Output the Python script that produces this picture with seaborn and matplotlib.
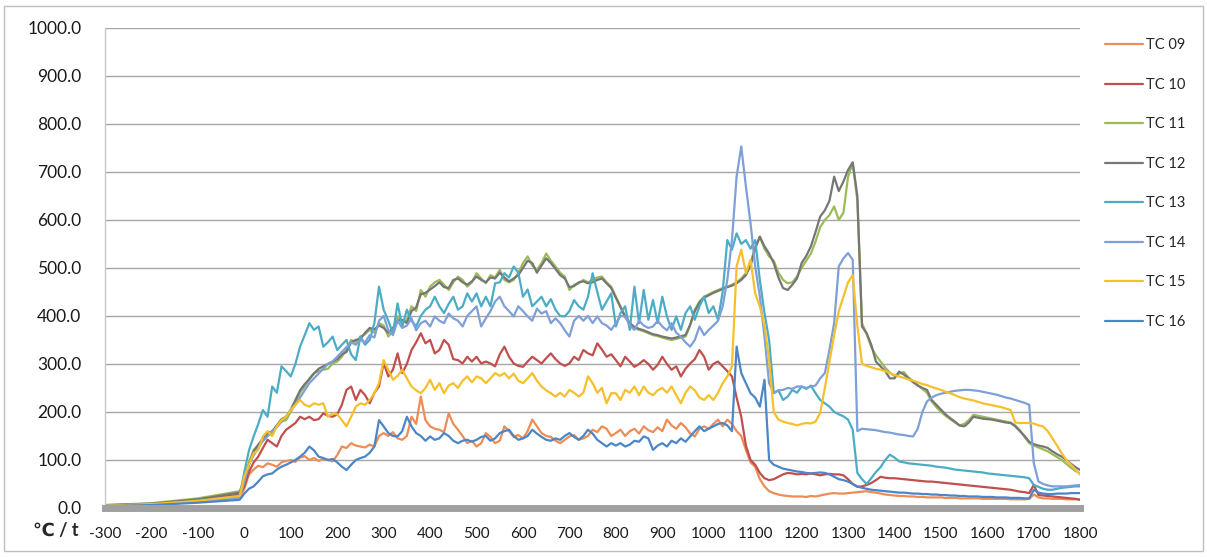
import matplotlib
matplotlib.use("Agg")
import matplotlib.pyplot as plt
from matplotlib.patches import Rectangle
import seaborn as sns
import pandas as pd

# time axis (s): a few pre-ignition points, then every 10 s
time = [-300, -200, -100, -10] + list(range(0, 1801, 10))

tc09 = [5, 7, 13, 22,
        40, 70, 80, 88, 85, 93, 90, 86, 95, 98,
        100, 96, 105, 108, 100, 104, 98, 102, 100, 97,
        110, 128, 125, 135, 130, 128, 126, 132, 128, 150,
        156, 150, 158, 145, 142, 150, 190, 175, 232, 183,
        170, 165, 163, 158, 197, 175, 163, 150, 135, 140,
        128, 135, 156, 148, 135, 140, 170, 160, 148, 152,
        145, 160, 184, 170, 156, 150, 148, 140, 135, 142,
        149, 152, 142, 145, 150, 163, 158, 170, 165, 150,
        156, 163, 150, 160, 165, 155, 170, 162, 158, 168,
        160, 184, 172, 165, 177, 168, 155, 149, 165, 170,
        165, 175, 184, 170, 184, 175, 160, 150, 121, 95,
        86, 60, 45, 35, 31, 28, 26, 25, 24, 24,
        24, 23, 25, 24, 26, 28, 30, 31, 30, 30,
        31, 32, 33, 34, 35, 33, 32, 30, 28, 27,
        26, 25, 25, 24, 24, 23, 23, 22, 22, 22,
        22, 21, 21, 21, 20, 20, 20, 20, 20, 19,
        19, 19, 19, 19, 19, 18, 18, 18, 18, 19,
        28, 22, 20, 20, 19, 19, 19, 18, 18, 18,
        18]

tc10 = [5, 8, 16, 28,
        45, 75, 95, 107, 125, 142, 135, 128, 150, 163,
        170, 177, 190, 185, 190, 183, 185, 197, 192, 190,
        195, 215, 246, 253, 225, 246, 235, 218, 240, 253,
        302, 274, 288, 322, 281, 300, 329, 345, 364, 343,
        350, 322, 329, 350, 340, 310, 308, 301, 315, 305,
        315, 301, 305, 301, 295, 320, 336, 315, 301, 296,
        294, 305, 315, 308, 301, 312, 322, 310, 301, 296,
        301, 315, 308, 329, 322, 318, 343, 330, 315, 320,
        308, 295, 315, 305, 294, 300, 308, 300, 288, 298,
        315, 300, 288, 295, 274, 290, 301, 310, 329, 315,
        288, 300, 305, 295, 285, 274, 230, 190, 130, 100,
        90, 73, 62, 58, 60, 65, 70, 73, 72, 70,
        71, 70, 72, 70, 68, 70, 71, 70, 70, 68,
        60, 50, 44, 45, 48, 52, 58, 65, 63, 62,
        62, 61, 60, 59, 58, 57, 56, 55, 55, 54,
        53, 52, 51, 50, 49, 48, 47, 46, 45, 44,
        43, 42, 41, 40, 39, 38, 36, 34, 33, 31,
        48, 27, 26, 25, 24, 23, 22, 21, 20, 19,
        17]

tc11 = [6, 10, 20, 35,
        60, 95, 121, 130, 140, 150, 156, 170, 180, 183,
        200, 218, 240, 253, 270, 281, 285, 288, 290, 301,
        305, 315, 330, 350, 345, 357, 362, 371, 365, 385,
        380, 357, 370, 399, 385, 392, 420, 410, 454, 440,
        461, 470, 475, 465, 454, 470, 482, 475, 461, 470,
        489, 478, 468, 485, 480, 496, 475, 470, 475, 490,
        510, 524, 505, 496, 510, 530, 515, 503, 490, 482,
        454, 465, 468, 475, 470, 475, 480, 482, 470, 461,
        440, 420, 400, 385, 375, 371, 368, 364, 360, 358,
        355, 352, 350, 352, 355, 357, 380, 413, 430, 440,
        445, 450, 454, 458, 461, 465, 470, 478, 489, 510,
        544, 565, 540, 524, 515, 490, 475, 468, 470, 482,
        500, 515, 530, 555, 585, 600, 610, 628, 600, 615,
        690, 718, 640, 385, 362, 335, 318, 305, 292, 282,
        275, 280, 283, 272, 264, 256, 248, 240, 222, 210,
        200, 192, 185, 178, 172, 175, 183, 194, 192, 190,
        188, 186, 184, 182, 180, 178, 172, 162, 148, 135,
        130, 126, 122, 118, 112, 106, 100, 92, 84, 77,
        72]

tc12 = [6, 9, 18, 32,
        55, 90, 118, 132, 145, 155, 160, 172, 185, 190,
        205, 225, 245, 258, 268, 280, 290, 295, 300, 305,
        310, 320, 325, 345, 350, 352, 365, 375, 372, 380,
        375, 365, 375, 390, 392, 385, 410, 418, 445, 448,
        455, 462, 470, 460, 458, 475, 478, 470, 465, 472,
        482, 475, 470, 480, 478, 490, 480, 472, 478, 485,
        500, 515, 510, 490, 505, 520, 510, 498, 485, 478,
        460, 462, 470, 472, 468, 470, 475, 478, 468, 458,
        438, 418, 398, 385, 377, 373, 370, 366, 362, 360,
        357, 355, 353, 355, 358, 360, 382, 410, 428, 438,
        443, 448, 452, 456, 460, 463, 468, 475, 485, 505,
        540, 565, 545, 530, 510, 480, 458, 454, 465, 478,
        510, 525, 545, 575, 607, 620, 640, 690, 660, 680,
        704, 720, 650, 378, 364, 340, 305, 295, 285, 270,
        270, 284, 278, 270, 262, 255, 250, 246, 225, 215,
        205, 195, 187, 180, 172, 170, 178, 190, 188, 186,
        185, 184, 182, 180, 178, 177, 170, 160, 150, 138,
        133, 130, 128, 125, 118, 112, 107, 100, 92, 85,
        79]

tc13 = [5, 7, 14, 25,
        75, 120, 149, 175, 204, 190, 253, 240, 295, 285,
        274, 300, 336, 360, 385, 371, 378, 336, 345, 357,
        329, 340, 350, 320, 308, 357, 340, 350, 385, 461,
        413, 390, 364, 426, 378, 413, 390, 378, 400, 413,
        420, 440, 420, 406, 425, 440, 413, 420, 447, 430,
        447, 420, 440, 420, 468, 470, 489, 480, 503, 490,
        440, 455, 420, 430, 440, 420, 435, 413, 400, 399,
        410, 433, 420, 413, 440, 489, 450, 413, 430, 447,
        378, 406, 420, 371, 461, 385, 454, 392, 433, 385,
        440, 399, 371, 399, 371, 406, 420, 392, 420, 440,
        406, 420, 392, 450, 558, 538, 572, 550, 558, 540,
        558, 475, 406, 350, 239, 245, 225, 232, 246, 240,
        253, 248, 255, 239, 225, 218, 211, 200, 195, 191,
        184, 163, 73, 60, 50, 62, 75, 85, 100, 111,
        105, 97, 95, 93, 92, 91, 90, 89, 88, 86,
        85, 84, 82, 80, 79, 78, 77, 76, 75, 74,
        72, 71, 70, 69, 68, 67, 66, 65, 64, 62,
        48, 44, 40, 38, 38, 40, 42, 43, 44, 45,
        45]

tc14 = [5, 7, 13, 22,
        55, 90, 110, 125, 140, 150, 160, 168, 180, 190,
        205, 215, 230, 245, 260, 270, 280, 290, 300, 305,
        315, 325, 335, 345, 340, 350, 345, 360, 355, 390,
        400, 370, 360, 390, 375, 380, 395, 370, 385, 390,
        378, 399, 390, 385, 405, 395, 390, 378, 400, 410,
        420, 378, 395, 410, 430, 440, 420, 410, 399, 420,
        410, 399, 390, 415, 405, 410, 385, 395, 385, 370,
        357, 390, 400, 390, 400, 385, 399, 385, 380, 371,
        385, 400, 399, 380, 371, 390, 380, 375, 378, 390,
        378, 370, 385, 365, 357, 345, 336, 350, 378, 360,
        371, 380, 390, 420, 475, 558, 690, 753, 670, 593,
        503, 441, 357, 260, 240, 245, 246, 250, 248, 253,
        253, 250, 253, 255, 270, 281, 330, 385, 503, 520,
        531, 517, 160, 165, 164, 163, 162, 160, 158, 157,
        155, 153, 152, 150, 149, 165, 200, 222, 230, 235,
        238, 240, 242, 244, 245, 246, 246, 245, 244, 242,
        240, 238, 236, 233, 230, 228, 225, 222, 219, 215,
        93, 55, 50, 47, 45, 45, 45, 45, 46, 47,
        48]

tc15 = [5, 8, 15, 25,
        66, 90, 114, 121, 149, 160, 150, 170, 183, 190,
        204, 215, 225, 215, 211, 218, 215, 218, 190, 197,
        195, 183, 170, 190, 211, 218, 215, 225, 239, 260,
        308, 288, 267, 275, 288, 270, 253, 245, 239, 250,
        267, 246, 260, 239, 255, 260, 250, 265, 274, 262,
        274, 270, 260, 270, 281, 275, 281, 270, 280, 265,
        260, 270, 281, 265, 253, 245, 239, 232, 240, 232,
        246, 240, 232, 240, 274, 260, 240, 250, 218, 239,
        239, 225, 246, 240, 253, 235, 253, 240, 235, 245,
        250, 240, 253, 235, 218, 240, 253, 245, 230, 225,
        235, 225, 240, 260, 274, 295, 503, 538, 489, 517,
        447, 420, 380, 308, 200, 184, 180, 177, 175, 172,
        175, 177, 176, 180, 198, 250, 305, 360, 410, 440,
        470, 485, 380, 300, 296, 293, 290, 288, 285, 281,
        277, 274, 271, 268, 265, 262, 258, 256, 252, 249,
        246, 242, 239, 235, 231, 228, 226, 224, 221, 218,
        216, 214, 212, 210, 207, 204, 178, 177, 177, 177,
        176, 172, 170, 160, 145, 130, 114, 100, 90, 80,
        69]

tc16 = [4, 6, 11, 17,
        30, 40, 45, 55, 66, 70, 72, 80, 86, 90,
        95, 100, 107, 115, 128, 120, 107, 104, 100, 102,
        95, 86, 79, 90, 100, 104, 107, 115, 128, 183,
        170, 156, 150, 149, 160, 190, 170, 156, 150, 140,
        149, 142, 145, 156, 150, 140, 135, 140, 142, 138,
        142, 148, 150, 140, 145, 156, 160, 163, 150, 142,
        145, 150, 163, 155, 148, 142, 140, 145, 142, 150,
        156, 148, 142, 150, 163, 155, 142, 135, 128, 135,
        130, 135, 128, 132, 140, 138, 149, 145, 121, 130,
        135, 128, 140, 135, 145, 138, 149, 160, 170, 160,
        165, 170, 175, 177, 172, 160, 336, 281, 260, 239,
        230, 211, 267, 100, 90, 86, 82, 80, 78, 76,
        75, 73, 72, 73, 74, 73, 70, 65, 60, 58,
        55, 50, 45, 42, 40, 38, 37, 36, 35, 34,
        33, 32, 32, 31, 30, 30, 29, 29, 28, 28,
        27, 27, 26, 26, 25, 25, 24, 24, 24, 23,
        23, 23, 22, 22, 22, 21, 21, 21, 20, 20,
        38, 32, 30, 29, 29, 30, 30, 30, 31, 31,
        31]

names = ["TC 09", "TC 10", "TC 11", "TC 12", "TC 13", "TC 14", "TC 15", "TC 16"]
series = [tc09, tc10, tc11, tc12, tc13, tc14, tc15, tc16]
colors = ["#EE8C55", "#C0504D", "#9BBB59", "#767676",
          "#4BACC6", "#7F9FD8", "#F5C02A", "#4A86C8"]

y_ticks = [0, 100, 200, 300, 400, 500, 600, 700, 800, 900, 1000]
x_ticks = [-300, -200, -100, 0, 100, 200, 300, 400, 500, 600, 700, 800, 900,
           1000, 1100, 1200, 1300, 1400, 1500, 1600, 1700, 1800]

frames = []
for n, s in zip(names, series):
    frames.append(pd.DataFrame({"t": time, "T": s, "TC": n}))
df = pd.concat(frames, ignore_index=True)

sns.set_style("white")
plt.rcParams["font.family"] = ["Lato", "DejaVu Sans"]

fig = plt.figure(figsize=(12.07, 5.57), dpi=100)
ax = fig.add_axes([0.087, 0.088, 0.808, 0.862])

sns.lineplot(data=df, x="t", y="T", hue="TC", palette=dict(zip(names, colors)),
             linewidth=1.6, ax=ax, legend=True)

ax.set_xlim(-300, 1800)
ax.set_ylim(0, 1000)
ax.set_yticks(y_ticks)
ax.set_yticklabels([f"{v:.1f}" for v in y_ticks], fontsize=12.5)
ax.set_xticks(x_ticks)
ax.set_xticklabels([str(v) for v in x_ticks], fontsize=11)
ax.tick_params(axis="both", length=0, labelcolor="#1A1A1A")
ax.tick_params(axis="y", pad=17)
ax.tick_params(axis="x", pad=14)
ax.set_xlabel("")
ax.set_ylabel("")
ax.yaxis.grid(True, color="#A6A6A6", linewidth=1.0)
ax.xaxis.grid(False)
for side in ["top", "right"]:
    ax.spines[side].set_visible(False)
ax.spines["left"].set_color("#C8C8C8")
ax.spines["left"].set_linewidth(1.0)
ax.spines["bottom"].set_color("#A0A0A0")
ax.spines["bottom"].set_linewidth(5)
ax.set_axisbelow(True)

handles, labels = ax.get_legend_handles_labels()
ax.legend_.remove()
leg = fig.legend(handles, labels, loc="upper left", bbox_to_anchor=(0.905, 0.955),
                 frameon=False, fontsize=10.5, handlelength=2.6, handletextpad=0.2,
                 labelspacing=1.75)

fig.text(0.027, 0.048, "\u2103 / t", fontsize=13, fontweight="bold", va="center")

fig.patches.append(Rectangle((0.003, 0.01), 0.994, 0.98, transform=fig.transFigure,
                             fill=False, edgecolor="#BFBFBF", linewidth=1.0))

fig.savefig("out.png", dpi=100)
